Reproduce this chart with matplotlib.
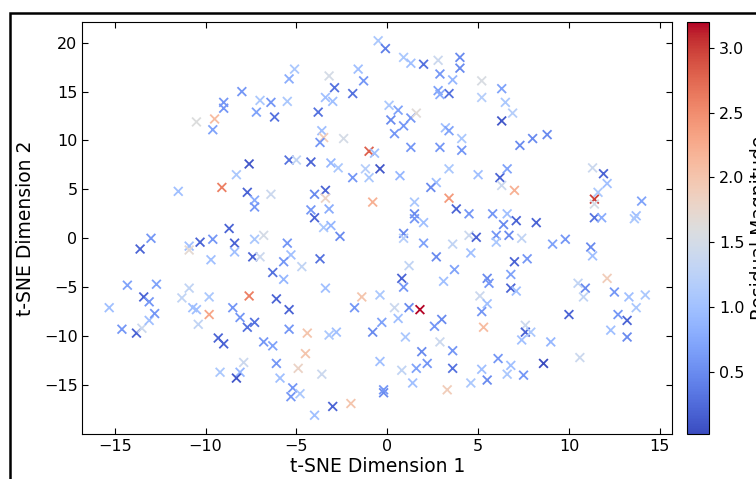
import numpy as np
import matplotlib
matplotlib.use("Agg")
import matplotlib.pyplot as plt
from matplotlib.patches import Rectangle

# t-SNE embedding
tsne_x = [
    -9.5, -10.5, -9.6, -9.0, -9.0, -8.0, -7.2, -7.0, -7.6,
    -0.5, -0.1, 0.9, 1.3, 2.0, 2.8, 4.0, 4.0, 2.9, 3.6, 2.8, 2.9, 3.4,
    -5.1, -5.4, -3.2, -2.9, -1.6, -1.3, -1.9, -3.4, -3.0, -6.4, -5.5, -6.2, -3.8,
    0.1, 0.6, 0.2, 1.3, 1.6, 0.9, 0.4, -3.6, -3.5, -3.7, -2.4, -1.0, -0.7,
    1.3, 2.9, 3.2, 3.4, 4.1, 4.1, -5.4, -5.0, -4.2, -3.1,
    5.2, 5.2, 6.3, 6.5, 6.9, 6.3, 7.3, 8.0, 8.8,
    -8.3, -9.1, -11.5, -7.7, -7.3, -7.3, -8.7, -13.0, -13.6, -10.9, -10.9,
    -10.3, -9.6, -8.4, -8.4, -9.7, -7.4, -7.0, -7.3, -6.8,
    -14.3, -12.7, -10.9, -13.4, -11.3, -9.8, -7.6,
    -2.7, -1.9, -1.2, -1.0, -0.4, 0.7, 3.4, 2.7, 2.4, 3.4, 3.8,
    -4.0, -3.4, -3.4, -0.8, -6.4, -4.2, -4.0, -3.2, -3.5, -3.1, -2.6,
    1.5, 1.5, 1.5, 2.0, 0.9, 0.9, 2.0, 3.6, 2.7, 1.2, 3.7, 0.8, 0.9, 3.1,
    -5.5, -5.3, -5.7, -6.3, -4.7, -3.7, -5.7, -3.4, -1.4, -0.4, -6.1,
    5.0, 6.2, 6.6, 6.3, 7.0, 11.3, 11.9, 12.1, 11.6, 11.4, 11.4, 14.0,
    4.5, 5.8, 6.6, 6.4, 7.1, 8.2, 11.4, 11.8, 13.7, 13.6,
    4.5, 4.9, 6.0, 6.0, 6.7, 7.4, 9.1, 9.8, 11.2, 11.3, 4.6,
    7.0, 7.7, 6.8, 5.5, 5.6, 6.8, 7.1, 5.1, 10.5, 10.9, 10.8, 12.1, 12.5, 13.3, 14.2,
    -15.3, -14.6, -13.8, -13.5, -13.1, -12.8, -13.1, -10.7, -10.5, -10.4, -9.8,
    -8.5, -8.1, -7.7, -7.3, -9.3, -9.0, -6.8, -9.2, -7.9, -8.1, -8.3,
    -5.4, -5.4, -4.4, -3.2, -2.8, -6.3, -6.1, -5.9, -4.5, -4.9, -3.6,
    -5.2, -5.3, -4.8, -4.0, -3.0, -2.0,
    -1.8, 0.4, 0.6, 1.2, 1.8, 3.0, 2.6, -0.3, -0.8, 1.0, 2.9, 3.6, 1.9,
    2.2, 1.6, 0.8, 3.6, 1.4, -0.4, -0.2, -0.2, 3.3,
    5.5, 5.2, 5.3, 7.6, 7.6, 7.9, 7.4, 9.0, 10.0, 12.7, 13.2, 13.7, 12.3, 13.2,
    10.6, 6.1, 5.2, 5.5, 4.6, 6.8, 6.6, 7.5, 8.6,
]
tsne_y = [
    12.2, 11.9, 11.1, 13.9, 13.3, 15.0, 12.9, 14.1, 7.6,
    20.2, 19.4, 18.5, 17.9, 17.8, 18.2, 18.5, 17.4, 16.8, 16.2, 15.1, 14.7, 14.8,
    17.3, 16.3, 16.6, 15.4, 17.3, 16.1, 14.8, 14.4, 14.0, 13.9, 14.0, 12.4, 12.9,
    13.6, 13.1, 12.1, 12.3, 12.8, 11.5, 10.7, 11.0, 10.3, 9.8, 10.2, 8.9, 8.7,
    9.3, 9.3, 11.3, 11.0, 10.2, 9.0, 8.0, 8.0, 7.8, 7.7,
    16.1, 14.4, 15.3, 13.9, 12.8, 12.0, 9.5, 10.2, 10.6,
    6.5, 5.2, 4.8, 4.7, 3.9, 3.2, 1.0, 0.0, -1.1, -0.8, -1.2,
    -0.4, -0.1, -0.5, -1.4, -2.2, -1.9, -1.9, -0.1, 0.3,
    -4.8, -4.7, -5.1, -6.0, -6.1, -6.0, -5.9,
    7.2, 6.2, 7.1, 6.2, 7.1, 6.4, 7.1, 5.7, 5.2, 4.1, 3.0,
    4.5, 4.9, 4.1, 3.7, 4.5, 2.9, 2.1, 3.0, 1.1, 1.3, 0.2,
    3.7, 2.5, 2.0, 1.6, 0.5, 0.0, -0.5, -0.6, -1.9, -2.8, -3.2, -4.1, -5.0, -4.4,
    -0.5, -1.7, -2.4, -3.5, -2.9, -2.1, -4.2, -5.1, -6.0, -5.8, -6.2,
    6.5, 6.2, 7.1, 5.4, 4.9, 7.2, 6.6, 5.6, 4.7, 4.0, 3.5, 3.8,
    2.5, 2.5, 2.5, 1.4, 1.8, 1.6, 2.1, 2.1, 2.3, 2.0,
    0.3, 0.1, 0.3, -0.4, 0.3, 0.0, -0.6, -0.1, -0.9, -1.8, -1.5,
    -2.4, -2.1, -3.7, -4.1, -4.6, -5.1, -5.4, -5.9, -4.6, -5.1, -6.0, -4.1, -5.5, -6.0, -5.8,
    -7.1, -9.3, -9.7, -9.2, -8.4, -7.7, -6.5, -7.1, -7.3, -8.8, -7.8,
    -7.1, -8.1, -9.1, -8.6, -10.2, -10.8, -10.6, -13.7, -12.7, -13.7, -14.3,
    -7.3, -9.3, -9.7, -9.9, -9.6, -11.0, -12.8, -14.3, -11.8, -13.3, -13.9,
    -15.3, -16.2, -15.9, -18.1, -17.2, -16.9,
    -7.1, -7.1, -8.2, -7.1, -7.3, -8.3, -9.0, -8.6, -9.6, -10.1, -10.6, -11.5, -11.6,
    -12.8, -13.3, -13.5, -13.3, -14.8, -12.6, -15.8, -15.5, -15.5,
    -6.7, -7.5, -9.1, -8.9, -9.6, -9.6, -10.4, -10.6, -7.8, -7.8, -8.4, -7.1, -9.4, -10.1,
    -12.2, -12.3, -13.4, -14.5, -14.8, -13.0, -13.9, -14.0, -12.8,
]
residual = [
    2.1, 1.6, 0.7, 0.6, 0.6, 0.6, 0.7, 1.1, 0.1,
    1.1, 0.4, 1.1, 1.0, 0.3, 1.4, 0.5, 0.5, 0.6, 0.9, 0.7, 0.8, 0.3,
    1.1, 0.8, 1.5, 0.3, 1.0, 0.6, 0.3, 1.0, 1.0, 0.6, 1.1, 0.3, 0.3,
    1.1, 0.7, 0.5, 0.6, 1.65, 0.6, 0.6, 1.0, 1.9, 0.6, 1.5, 2.8, 1.0,
    0.6, 0.6, 1.0, 0.7, 1.1, 0.6, 0.3, 1.3, 0.2, 0.9,
    1.55, 1.2, 0.7, 1.1, 1.2, 0.1, 0.5, 0.5, 0.5,
    1.1, 2.6, 1.0, 0.2, 0.8, 0.6, 0.2, 0.6, 0.2, 1.0, 1.7,
    0.2, 0.6, 0.2, 1.0, 1.0, 0.2, 1.4, 1.1, 1.5,
    0.7, 0.7, 1.3, 0.2, 1.3, 1.1, 2.6,
    1.1, 0.6, 1.2, 1.1, 0.1, 0.9, 1.1, 1.0, 0.5, 2.4, 0.2,
    0.5, 0.2, 1.8, 2.2, 1.4, 0.6, 0.2, 0.8, 1.1, 0.9, 0.5,
    1.1, 0.5, 0.6, 1.0, 0.5, 1.2, 0.7, 1.3, 0.5, 1.3, 0.7, 0.2, 0.6, 1.0,
    0.6, 1.0, 0.6, 0.3, 1.3, 0.3, 0.9, 1.0, 2.0, 1.1, 0.2,
    1.0, 0.2, 0.7, 1.4, 2.2, 1.4, 0.2, 1.0, 1.1, 3.0, 1.5, 0.7,
    0.6, 0.6, 1.0, 0.5, 0.2, 0.2, 0.3, 0.8, 1.0, 1.1,
    1.4, 0.2, 0.6, 1.1, 0.5, 1.3, 0.7, 0.6, 0.5, 1.0, 1.0,
    0.2, 0.6, 0.7, 0.5, 0.6, 0.2, 1.0, 1.4, 1.3, 0.5, 1.3, 1.9, 0.6, 1.0, 1.1,
    1.0, 0.6, 0.2, 1.4, 1.0, 0.6, 0.6, 1.0, 1.0, 1.3, 2.3,
    0.6, 0.6, 0.3, 0.3, 0.2, 0.2, 0.6, 1.1, 1.4, 0.9, 0.1,
    0.2, 0.6, 2.0, 1.1, 1.0, 0.7, 0.6, 1.0, 2.0, 1.8, 1.4,
    0.6, 0.6, 1.1, 1.0, 0.2, 2.0,
    0.6, 1.4, 1.0, 0.5, 3.2, 0.5, 0.6, 0.7, 0.5, 1.1, 1.4, 0.6, 0.5,
    0.6, 0.7, 1.3, 0.3, 1.0, 1.0, 0.5, 0.6, 1.9,
    1.0, 0.6, 2.1, 1.4, 0.2, 1.1, 1.0, 0.9, 0.2, 0.6, 0.2, 1.1, 1.0, 0.5,
    1.4, 0.6, 1.0, 0.5, 1.1, 1.0, 1.1, 0.6, 0.02,
]

plt.rcParams['font.family'] = ['DejaVu Sans']

fig = plt.figure(figsize=(7.56, 4.79), dpi=100)
ax = fig.add_axes([0.109, 0.094, 0.780, 0.860])
cax = fig.add_axes([0.909, 0.094, 0.029, 0.860])

sc = ax.scatter(tsne_x, tsne_y, c=residual, cmap='coolwarm', marker='x',
                s=40, linewidths=1.3)

ax.set_xlabel('t-SNE Dimension 1', fontsize=13.5, labelpad=2)
ax.set_ylabel('t-SNE Dimension 2', fontsize=13.5, labelpad=6)
ax.tick_params(direction='in', top=True, right=True, labelsize=11.5, length=4)
ax.set_xticks([-15, -10, -5, 0, 5, 10, 15])
ax.set_yticks([-15, -10, -5, 0, 5, 10, 15, 20])

cb = fig.colorbar(sc, cax=cax)
cb.set_label('Residual Magnitude', fontsize=13.5)
cb.ax.tick_params(labelsize=11.5)
cb.set_ticks([0.5, 1.0, 1.5, 2.0, 2.5, 3.0])

# outer frame around the figure (cut by the crop on right and bottom)
fig.patches.append(Rectangle((0.0135, -0.2), 1.5, 1.172, transform=fig.transFigure,
                             fill=False, edgecolor='black', linewidth=1.8,
                             clip_on=False))

fig.savefig('out.png', dpi=100)
